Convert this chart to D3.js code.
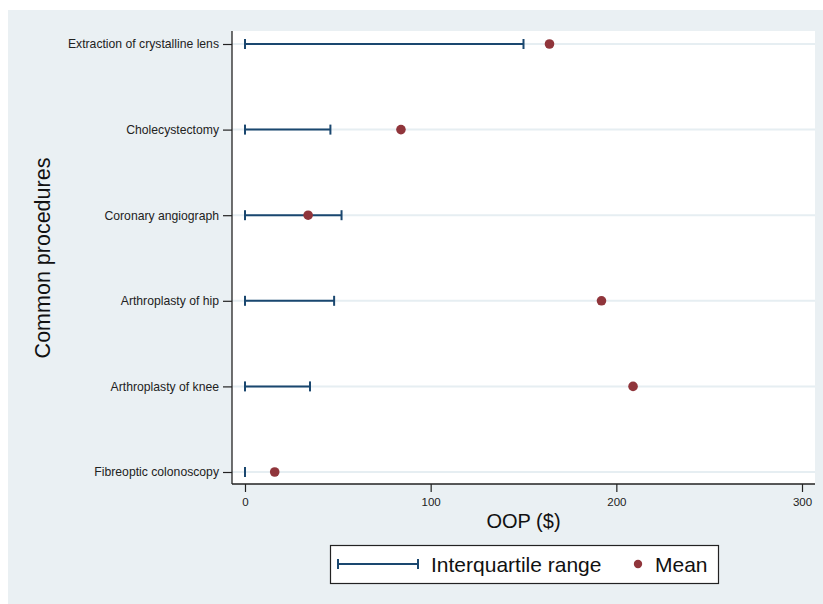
<!DOCTYPE html>
<html>
<head>
<meta charset="utf-8">
<script src="https://cdn.jsdelivr.net/npm/d3@7"></script>
<style>
  body { margin: 0; background: #fff; }
  text { font-family: Arial, "Liberation Sans", sans-serif; }
</style>
</head>
<body>
<svg id="chart" width="823" height="604"></svg>
<script>
var procedures = ['Extraction of crystalline lens', 'Cholecystectomy', 'Coronary angiograph',
  'Arthroplasty of hip', 'Arthroplasty of knee', 'Fibreoptic colonoscopy'];
var iqrLow = [0, 0, 0, 0, 0, 0];
var iqrHigh = [150, 46, 52, 48, 35, 0];
var means = [164, 84, 34, 192, 209, 16];
var xTicks = [0, 100, 200, 300];

var rows = procedures.map((p, i) => ({name: p, lo: iqrLow[i], hi: iqrHigh[i], mean: means[i]}));

var svg = d3.select('#chart');
var lineColor = '#1a476f', dotColor = '#90353b', gridColor = '#e6eef2';

// graph region + plot region
svg.append('rect').attr('x', 8).attr('y', 10).attr('width', 815).attr('height', 594).attr('fill', '#eaf0f3');
var plot = {left: 232, right: 815, top: 31, bottom: 484};
svg.append('rect').attr('x', plot.left).attr('y', plot.top)
  .attr('width', plot.right - plot.left).attr('height', plot.bottom - plot.top).attr('fill', '#fff');

var x = d3.scaleLinear().domain([-7, 307]).range([plot.left, plot.right]);
var y = d3.scalePoint().domain(procedures).range([44, 472]);

// horizontal grid lines
svg.append('g').selectAll('line').data(procedures).enter().append('line')
  .attr('x1', plot.left).attr('x2', plot.right)
  .attr('y1', d => y(d)).attr('y2', d => y(d))
  .attr('stroke', gridColor).attr('stroke-width', 2);

// axes
var xAxis = svg.append('g').attr('transform', 'translate(0,' + plot.bottom + ')')
  .call(d3.axisBottom(x).tickValues(xTicks).tickSize(8).tickPadding(6).tickSizeOuter(0));
var yAxis = svg.append('g').attr('transform', 'translate(' + plot.left + ',0)')
  .call(d3.axisLeft(y).tickSize(9).tickPadding(4).tickSizeOuter(0));
[xAxis, yAxis].forEach(a => {
  a.select('.domain').attr('stroke', '#222').attr('stroke-width', 1.3);
  a.selectAll('.tick line').attr('stroke', '#222').attr('stroke-width', 1.2);
  a.selectAll('.tick text').attr('fill', '#222');
});
xAxis.selectAll('.tick text').style('font-size', '11.5px');
yAxis.selectAll('.tick text').style('font-size', '12.2px');
// the x-axis domain runs the full width of the plot
xAxis.select('.domain').attr('d', 'M' + plot.left + ',0H' + plot.right);
yAxis.select('.domain').attr('d', 'M0,' + plot.top + 'V' + plot.bottom);

// interquartile range bars
var bars = svg.append('g').selectAll('g').data(rows).enter().append('g');
bars.append('line')
  .attr('x1', d => x(d.lo)).attr('x2', d => x(d.hi))
  .attr('y1', d => y(d.name)).attr('y2', d => y(d.name))
  .attr('stroke', lineColor).attr('stroke-width', 2);
bars.selectAll('line.cap').data(d => [[d.lo, d.name], [d.hi, d.name]]).enter().append('line')
  .attr('class', 'cap')
  .attr('x1', d => x(d[0])).attr('x2', d => x(d[0]))
  .attr('y1', d => y(d[1]) - 5).attr('y2', d => y(d[1]) + 5)
  .attr('stroke', lineColor).attr('stroke-width', 2);

// means
svg.append('g').selectAll('circle').data(rows).enter().append('circle')
  .attr('cx', d => x(d.mean)).attr('cy', d => y(d.name)).attr('r', 4.8)
  .attr('fill', dotColor);

// axis titles
svg.append('text').attr('x', (plot.left + plot.right) / 2).attr('y', 528)
  .attr('text-anchor', 'middle').style('font-size', '20px').attr('fill', '#111').text('OOP ($)');
svg.append('text').attr('transform', 'translate(50,258) rotate(-90)')
  .attr('text-anchor', 'middle').style('font-size', '21.5px').attr('fill', '#111').text('Common procedures');

// legend
var lg = svg.append('g');
lg.append('rect').attr('x', 330.5).attr('y', 545.5).attr('width', 388).attr('height', 38)
  .attr('fill', '#fff').attr('stroke', '#222').attr('stroke-width', 1.2);
lg.append('line').attr('x1', 338).attr('x2', 418).attr('y1', 564).attr('y2', 564)
  .attr('stroke', lineColor).attr('stroke-width', 2);
[338, 418].forEach(cx => lg.append('line').attr('x1', cx).attr('x2', cx).attr('y1', 559).attr('y2', 569)
  .attr('stroke', lineColor).attr('stroke-width', 2));
lg.append('text').attr('x', 431).attr('y', 572).style('font-size', '21px').attr('fill', '#111').text('Interquartile range');
lg.append('circle').attr('cx', 638).attr('cy', 564).attr('r', 4.2).attr('fill', dotColor);
lg.append('text').attr('x', 655).attr('y', 572).style('font-size', '21px').attr('fill', '#111').text('Mean');
</script>
</body>
</html>
